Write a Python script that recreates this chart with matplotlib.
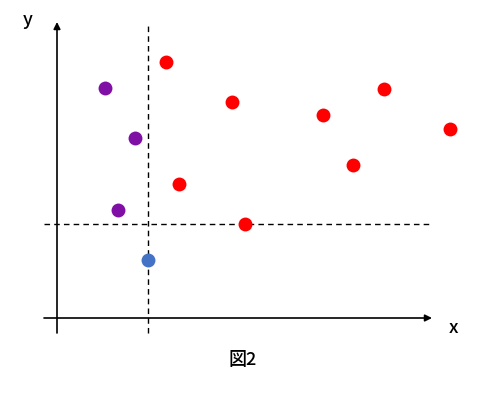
import matplotlib
matplotlib.use("Agg")
import matplotlib.pyplot as plt

plt.rcParams['font.family'] = ['Noto Sans CJK JP', 'DejaVu Sans']

# data (in chart units, y increases upward)
purple_x = [105, 135, 118]
purple_y = [311, 261, 189]
blue_x = [148]
blue_y = [139]
red_x = [166, 232, 179, 245, 323, 353, 384, 450]
red_y = [337, 297, 215, 175, 284, 234, 310, 270]
vline_x = 148
hline_y = 175
caption = "図2"

H = 399
fig = plt.figure(figsize=(4.86, 3.99), dpi=100)
ax = fig.add_axes([0, 0, 1, 1])
ax.set_xlim(0, 486)
ax.set_ylim(0, H)
ax.axis('off')

# axes with arrows
ax.annotate('', xy=(432, H - 318), xytext=(44, H - 318),
            arrowprops=dict(arrowstyle='-|>', color='black', lw=1.2,
                            mutation_scale=10, shrinkA=0, shrinkB=0))
ax.annotate('', xy=(57, H - 22), xytext=(57, H - 333),
            arrowprops=dict(arrowstyle='-|>', color='black', lw=1.2,
                            mutation_scale=10, shrinkA=0, shrinkB=0))

# dashed reference lines
ax.plot([vline_x, vline_x], [H - 333, H - 25], color='black', lw=1, ls=(0, (4, 3)))
ax.plot([44, 432], [hline_y, hline_y], color='black', lw=1, ls=(0, (4, 3)))

s = 100
ax.scatter(purple_x, purple_y, s=s, color='#7F0FA5', zorder=3, linewidths=0)
ax.scatter(blue_x, blue_y, s=s, color='#4472C4', zorder=3, linewidths=0)
ax.scatter(red_x, red_y, s=s, color='#FF0000', zorder=3, linewidths=0)

ax.text(28, H - 20, 'y', fontsize=13, ha='center', va='center', fontweight='medium')
ax.text(453, H - 328, 'x', fontsize=13, ha='center', va='center', fontweight='medium')
ax.text(243, H - 360, caption, fontsize=13, ha='center', va='center', fontweight='medium')

fig.savefig('out.png', dpi=100)
